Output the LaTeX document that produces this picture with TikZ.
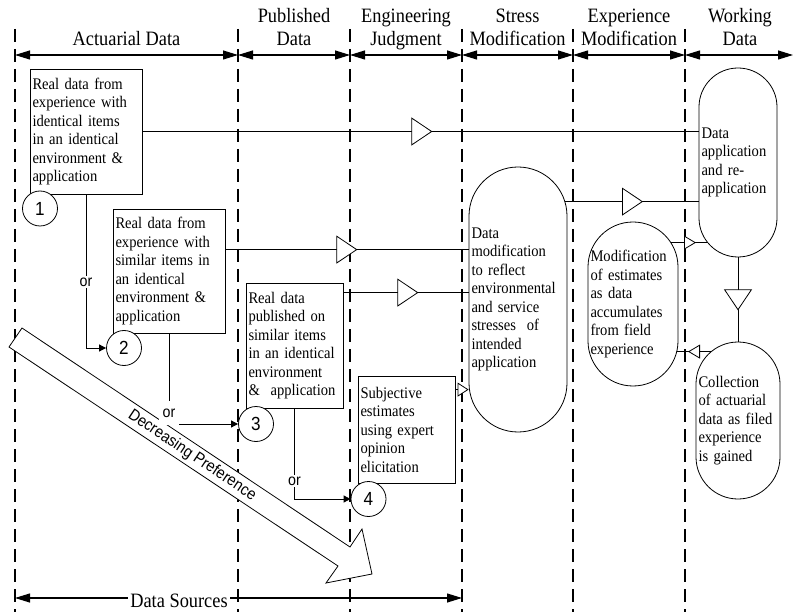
\documentclass[tikz,border=0pt]{standalone}
\usepackage{fontspec}
\setmainfont[FakeStretch=0.9]{Liberation Serif}
\newfontfamily\sansf[FakeStretch=0.9]{Liberation Sans}
\usetikzlibrary{arrows.meta,calc,decorations.markings}
\pgfdeclarelayer{background}
\pgfsetlayers{background,main}
\tikzset{
  hdr/.style={font=\fontsize{20.4}{24}\selectfont, inner sep=0pt, anchor=base},
  txtbox/.style={draw, line width=0.8pt, fill=white, align=left, inner xsep=2.5pt, inner ysep=0pt,
    font=\fontsize{16.2}{18.5}\selectfont},
  numc/.style={circle, draw, line width=0.8pt, fill=white, minimum size=35pt, inner sep=0pt,
    font=\sansf\fontsize{19}{19}\selectfont},
  orlbl/.style={fill=white, inner sep=2pt, font=\sansf\fontsize{15.8}{16}\selectfont},
  sepline/.style={line width=2.2pt, dash pattern=on 13pt off 7pt},
  spanarr/.style={line width=1.1pt, {Triangle[length=15pt,width=9pt]}-{Triangle[length=15pt,width=9pt]}},
  connline/.style={line width=0.8pt},
  bigtri/.style={decoration={markings, mark=at position #1 with {\arrow{Triangle[length=21pt,width=28pt,fill=white]}}}, postaction={decorate}},
  smalltri/.style={decoration={markings, mark=at position #1 with {\arrow{Triangle[length=12pt,width=14pt,fill=white]}}}, postaction={decorate}},
}
\begin{document}
\begin{tikzpicture}[x=1pt,y=-1pt]
\useasboundingbox (0,0) rectangle (795,612);
% separator coordinates
\foreach \n/\x in {1/15,2/238,3/350,4/462,5/573,6/685} {
  \coordinate (t\n) at (\x,29);
  \coordinate (b\n) at (\x,612);
  \coordinate (a\n) at (\x,55);
}
\coordinate (a7) at (793,55);
\coordinate (ds1) at (15,598);
\coordinate (ds2) at (462,598);

% headers
\node[hdr] (hA) at (126.5,46) {Actuarial Data};
\node[hdr] (hP1) at (294,23) {Published};
\node[hdr] (hP2) at (294,46) {Data};
\node[hdr] (hE1) at (406,23) {Engineering};
\node[hdr] (hE2) at (406,46) {Judgment};
\node[hdr] (hS1) at (517.5,23) {Stress};
\node[hdr] (hS2) at (517.5,46) {Modification};
\node[hdr] (hX1) at (629,23) {Experience};
\node[hdr] (hX2) at (629,46) {Modification};
\node[hdr] (hW1) at (740,23) {Working};
\node[hdr] (hW2) at (740,46) {Data};

% big arrow
\draw[line width=0.8pt, fill=white] (22,328) -- (350,547) -- (362,529) -- (372,574) -- (326,583) -- (338,566) -- (9,347) -- cycle;
\node[rotate=-33.7, inner sep=0pt, font=\sansf\fontsize{16.3}{16.3}\selectfont] (pref) at (192,455.5) {Decreasing Preference};

% boxes
\node[txtbox, text width=107pt, minimum height=125pt] (box1) at (86,131.5)
  {Real data from\\experience with\\identical items\\in an identical\\environment \&\\application};
\node[txtbox, text width=107pt, minimum height=124pt] (box2) at (169,271)
  {Real data from\\experience with\\similar items in\\an identical\\environment \&\\application};
\node[txtbox, text width=92pt, minimum height=125pt] (box3) at (294.5,345.5)
  {Real data\\published on\\similar items\\in an identical\\environment\\\&\ \ application};
\node[txtbox, text width=92pt, minimum height=107pt] (box4) at (406.5,429.5)
  {Subjective\\estimates\\using expert\\opinion\\elicitation};

% pill shapes
\node[txtbox, rounded corners=49pt, text width=93pt, minimum height=265pt] (stress) at (518,299.5)
  {Data\\modification\\to reflect\\environmental\\and service\\stresses\ \ of\\intended\\application};
\node[txtbox, rounded corners=45pt, text width=85pt, minimum height=164pt] (expm) at (633,304)
  {Modification\\of estimates\\as data\\accumulates\\from field\\experience};
\node[txtbox, rounded corners=39pt, text width=73pt, minimum height=189pt] (work) at (738,162.5)
  {Data\\application\\and re-\\application};
\node[txtbox, rounded corners=42pt, text width=79pt, minimum height=157pt] (coll) at (738,420.5)
  {Collection\\of actuarial\\data as filed\\experience\\is gained};

% numbered circles
\node[numc] (c1) at (40,208.5) {1};
\node[numc] (c2) at (124,348) {2};
\node[numc] (c3) at (256,424) {3};
\node[numc] (c4) at (368.5,499) {4};

% or labels
\node[orlbl] (or1) at (86,282) {or};
\node[orlbl, minimum width=20pt, minimum height=24pt] (or2) at (169,413) {or};
\node[orlbl] (or3) at (294.5,481) {or};

% bottom label
\node[hdr, fill=white, inner sep=2pt] (dsrc) at (179,607.5) {Data Sources};

% connector anchors
\coordinate (p2) at ($(box2.north east)+(0,41)$);
\coordinate (p3) at ($(box3.north east)+(0,10)$);
\coordinate (p4) at ($(box4.north east)+(0,14)$);
\coordinate (p5) at ($(stress.north)+(0,35)$);
\coordinate (p6) at ($(expm.north)+(0,21)$);
\coordinate (p7) at ($(coll.north)+(0,10)$);

\begin{pgfonlayer}{background}
  \foreach \n in {1,...,6} \draw[sepline] (t\n) -- (b\n);
  \draw[spanarr] (a1) -- (a2);
  \draw[spanarr] (a2) -- (a3);
  \draw[spanarr] (a3) -- (a4);
  \draw[spanarr] (a4) -- (a5);
  \draw[spanarr] (a5) -- (a6);
  \draw[spanarr] (a6) -- (a7);
  \draw[spanarr] (ds1) -- (ds2);

  \draw[connline, bigtri=290pt] (box1.east) -- (box1.east -| work.center);
  \draw[connline, bigtri=132pt] (p2) -- (p2 -| stress.center);
  \draw[connline, bigtri=75pt] (p3) -- (p3 -| stress.center);
  \draw[connline, -{Triangle[length=11pt,width=14pt,fill=white]}] (p4) -- (p4 -| stress.west);
  \draw[connline, bigtri=125pt] (p5) -- (p5 -| work.center);
  \draw[connline, smalltri=63pt] (p6) -- (p6 -| work.center);
  \draw[connline, smalltri=50pt] (p7) -- (p7 -| expm.center);
  \draw[connline, bigtri=53pt] (work.south) -- (coll.north);

  \draw[connline, -{Triangle[length=7pt,width=7pt]}] (box1.south) -- (box1.south |- c2.west) -- (c2.west);
  \draw[connline, -{Triangle[length=7pt,width=7pt]}] (box2.south) -- (box2.south |- c3.west) -- (c3.west);
  \draw[connline, -{Triangle[length=7pt,width=7pt]}] (box3.south) -- (box3.south |- c4.west) -- (c4.west);
\end{pgfonlayer}
\end{tikzpicture}
\end{document}
